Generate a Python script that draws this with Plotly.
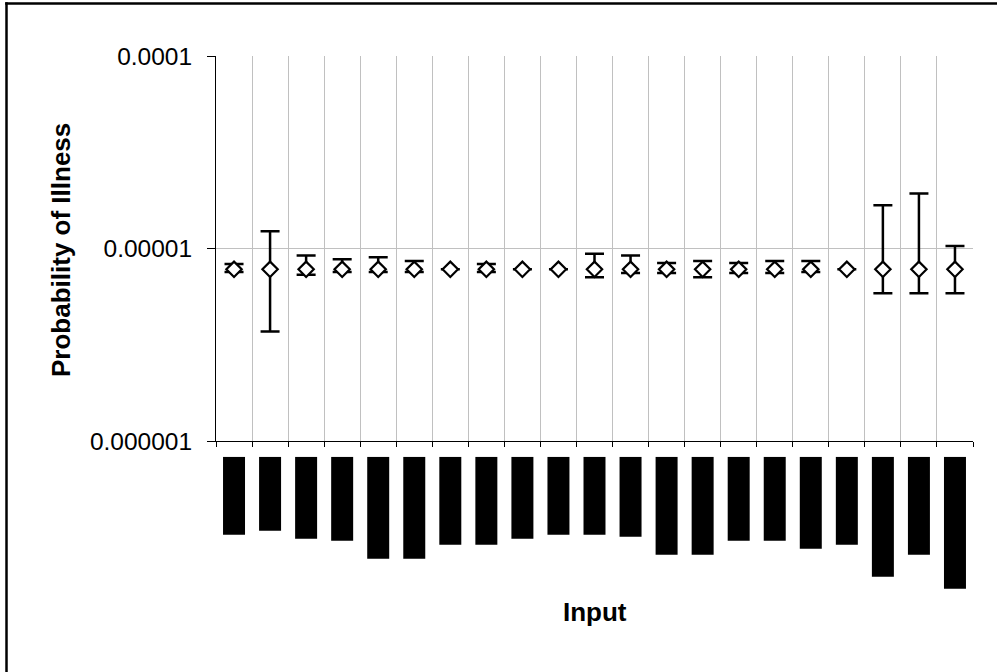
import plotly.graph_objects as go

# ---- data ----
inputs = [f"Input {i}" for i in range(1, 22)]
prob = [7.8e-6] * 21
upper = [8.3e-6, 1.23e-5, 9.2e-6, 8.8e-6, 9.0e-6, 8.6e-6, None, 8.3e-6, None, None,
         9.4e-6, 9.2e-6, 8.4e-6, 8.6e-6, 8.4e-6, 8.6e-6, 8.6e-6, None, 1.68e-5, 1.93e-5, 1.03e-5]
lower = [7.55e-6, 3.7e-6, 7.3e-6, 7.55e-6, 7.55e-6, 7.55e-6, None, 7.55e-6, None, None,
         7.1e-6, 7.45e-6, 7.45e-6, 7.1e-6, 7.45e-6, 7.45e-6, 7.55e-6, None, 5.85e-6, 5.85e-6, 5.85e-6]
# redacted category labels (drawn as black blocks), length in px
label_len = [78, 74, 82, 84, 102, 102, 88, 88, 82, 78, 78, 80, 98, 98, 84, 84, 92, 88, 120, 98, 132]
ytick_vals = [1e-6, 1e-5, 1e-4]
ytick_text = ["0.000001", "0.00001", "0.0001"]

x = list(range(1, len(inputs) + 1))
err_plus = [None if u is None else u - p for u, p in zip(upper, prob)]
err_minus = [None if l is None else p - l for l, p in zip(lower, prob)]

W, H = 997, 672
ML, MR, MT, MB = 216, 24, 56, 0
ph = H - MT - MB
pw = W - ML - MR
plot_bottom_px = 441
label_top_px = 456.7
dom1 = (H - MB - plot_bottom_px) / ph
dom2 = (H - MB - label_top_px) / ph


def px_x(p):
    return (p - ML) / pw


def px_y(p):
    return (H - MB - p) / ph


fig = go.Figure()
fig.add_trace(go.Scatter(
    x=x, y=prob, mode="markers", text=inputs,
    marker=dict(symbol="diamond", size=11.8, color="white",
                line=dict(color="black", width=2.2)),
    error_y=dict(type="data", symmetric=False, array=err_plus, arrayminus=err_minus,
                 color="black", thickness=2.5, width=9.5),
    showlegend=False, xaxis="x", yaxis="y",
))
fig.add_trace(go.Bar(
    x=x, y=label_len, width=0.61, marker=dict(color="black", line=dict(width=0)),
    showlegend=False, xaxis="x2", yaxis="y2", text=inputs, textposition="none",
))

font = "Liberation Sans, Arial, sans-serif"
fig.update_layout(
    width=W, height=H, margin=dict(l=ML, r=MR, t=MT, b=MB, pad=0, autoexpand=False),
    paper_bgcolor="white", plot_bgcolor="white",
    font=dict(family=font, color="black"),
    xaxis=dict(domain=[0, 1], range=[0.5, len(x) + 0.5], tickmode="array",
               tickvals=[i + 0.5 for i in range(0, len(x) + 1)],
               showticklabels=False, ticks="outside", ticklen=5, tickcolor="black",
               showgrid=True, gridcolor="#c0c0c0", gridwidth=1,
               showline=True, linecolor="black", linewidth=1, zeroline=False,
               anchor="y", automargin=False),
    yaxis=dict(domain=[dom1, 1], type="log", range=[-6, -4], tickmode="array",
               tickvals=ytick_vals, ticktext=ytick_text,
               tickfont=dict(size=24.5, family=font), ticks="outside", ticklen=8,
               tickcolor="black", ticklabelstandoff=10,
               showgrid=True, gridcolor="#c0c0c0", gridwidth=1,
               showline=True, linecolor="black", linewidth=1, zeroline=False,
               anchor="x", automargin=False),
    xaxis2=dict(domain=[0, 1], range=[0.5, len(x) + 0.5], visible=False, anchor="y2",
                automargin=False),
    yaxis2=dict(domain=[0, dom2], range=[dom2 * ph, 0], visible=False, anchor="x2",
                automargin=False),
    annotations=[
        dict(text="<b>Probability of Illness</b>", textangle=-90, xref="paper", yref="paper",
             x=px_x(61), y=px_y(250), xanchor="center", yanchor="middle",
             showarrow=False, font=dict(size=26, family=font)),
        dict(text="<b>Input</b>", xref="paper", yref="paper",
             x=px_x(594.5), y=px_y(612), xanchor="center", yanchor="middle",
             showarrow=False, font=dict(size=26, family=font)),
    ],
    shapes=[
        dict(type="line", xref="paper", yref="paper",
             x0=px_x(5.2), x1=px_x(W + 5), y0=px_y(3.5), y1=px_y(3.5),
             line=dict(color="black", width=2.5), layer="above"),
        dict(type="line", xref="paper", yref="paper",
             x0=px_x(6.5), x1=px_x(6.5), y0=px_y(2.3), y1=px_y(H + 5),
             line=dict(color="black", width=2.5), layer="above"),
    ],
)

fig.write_html("out.html")
